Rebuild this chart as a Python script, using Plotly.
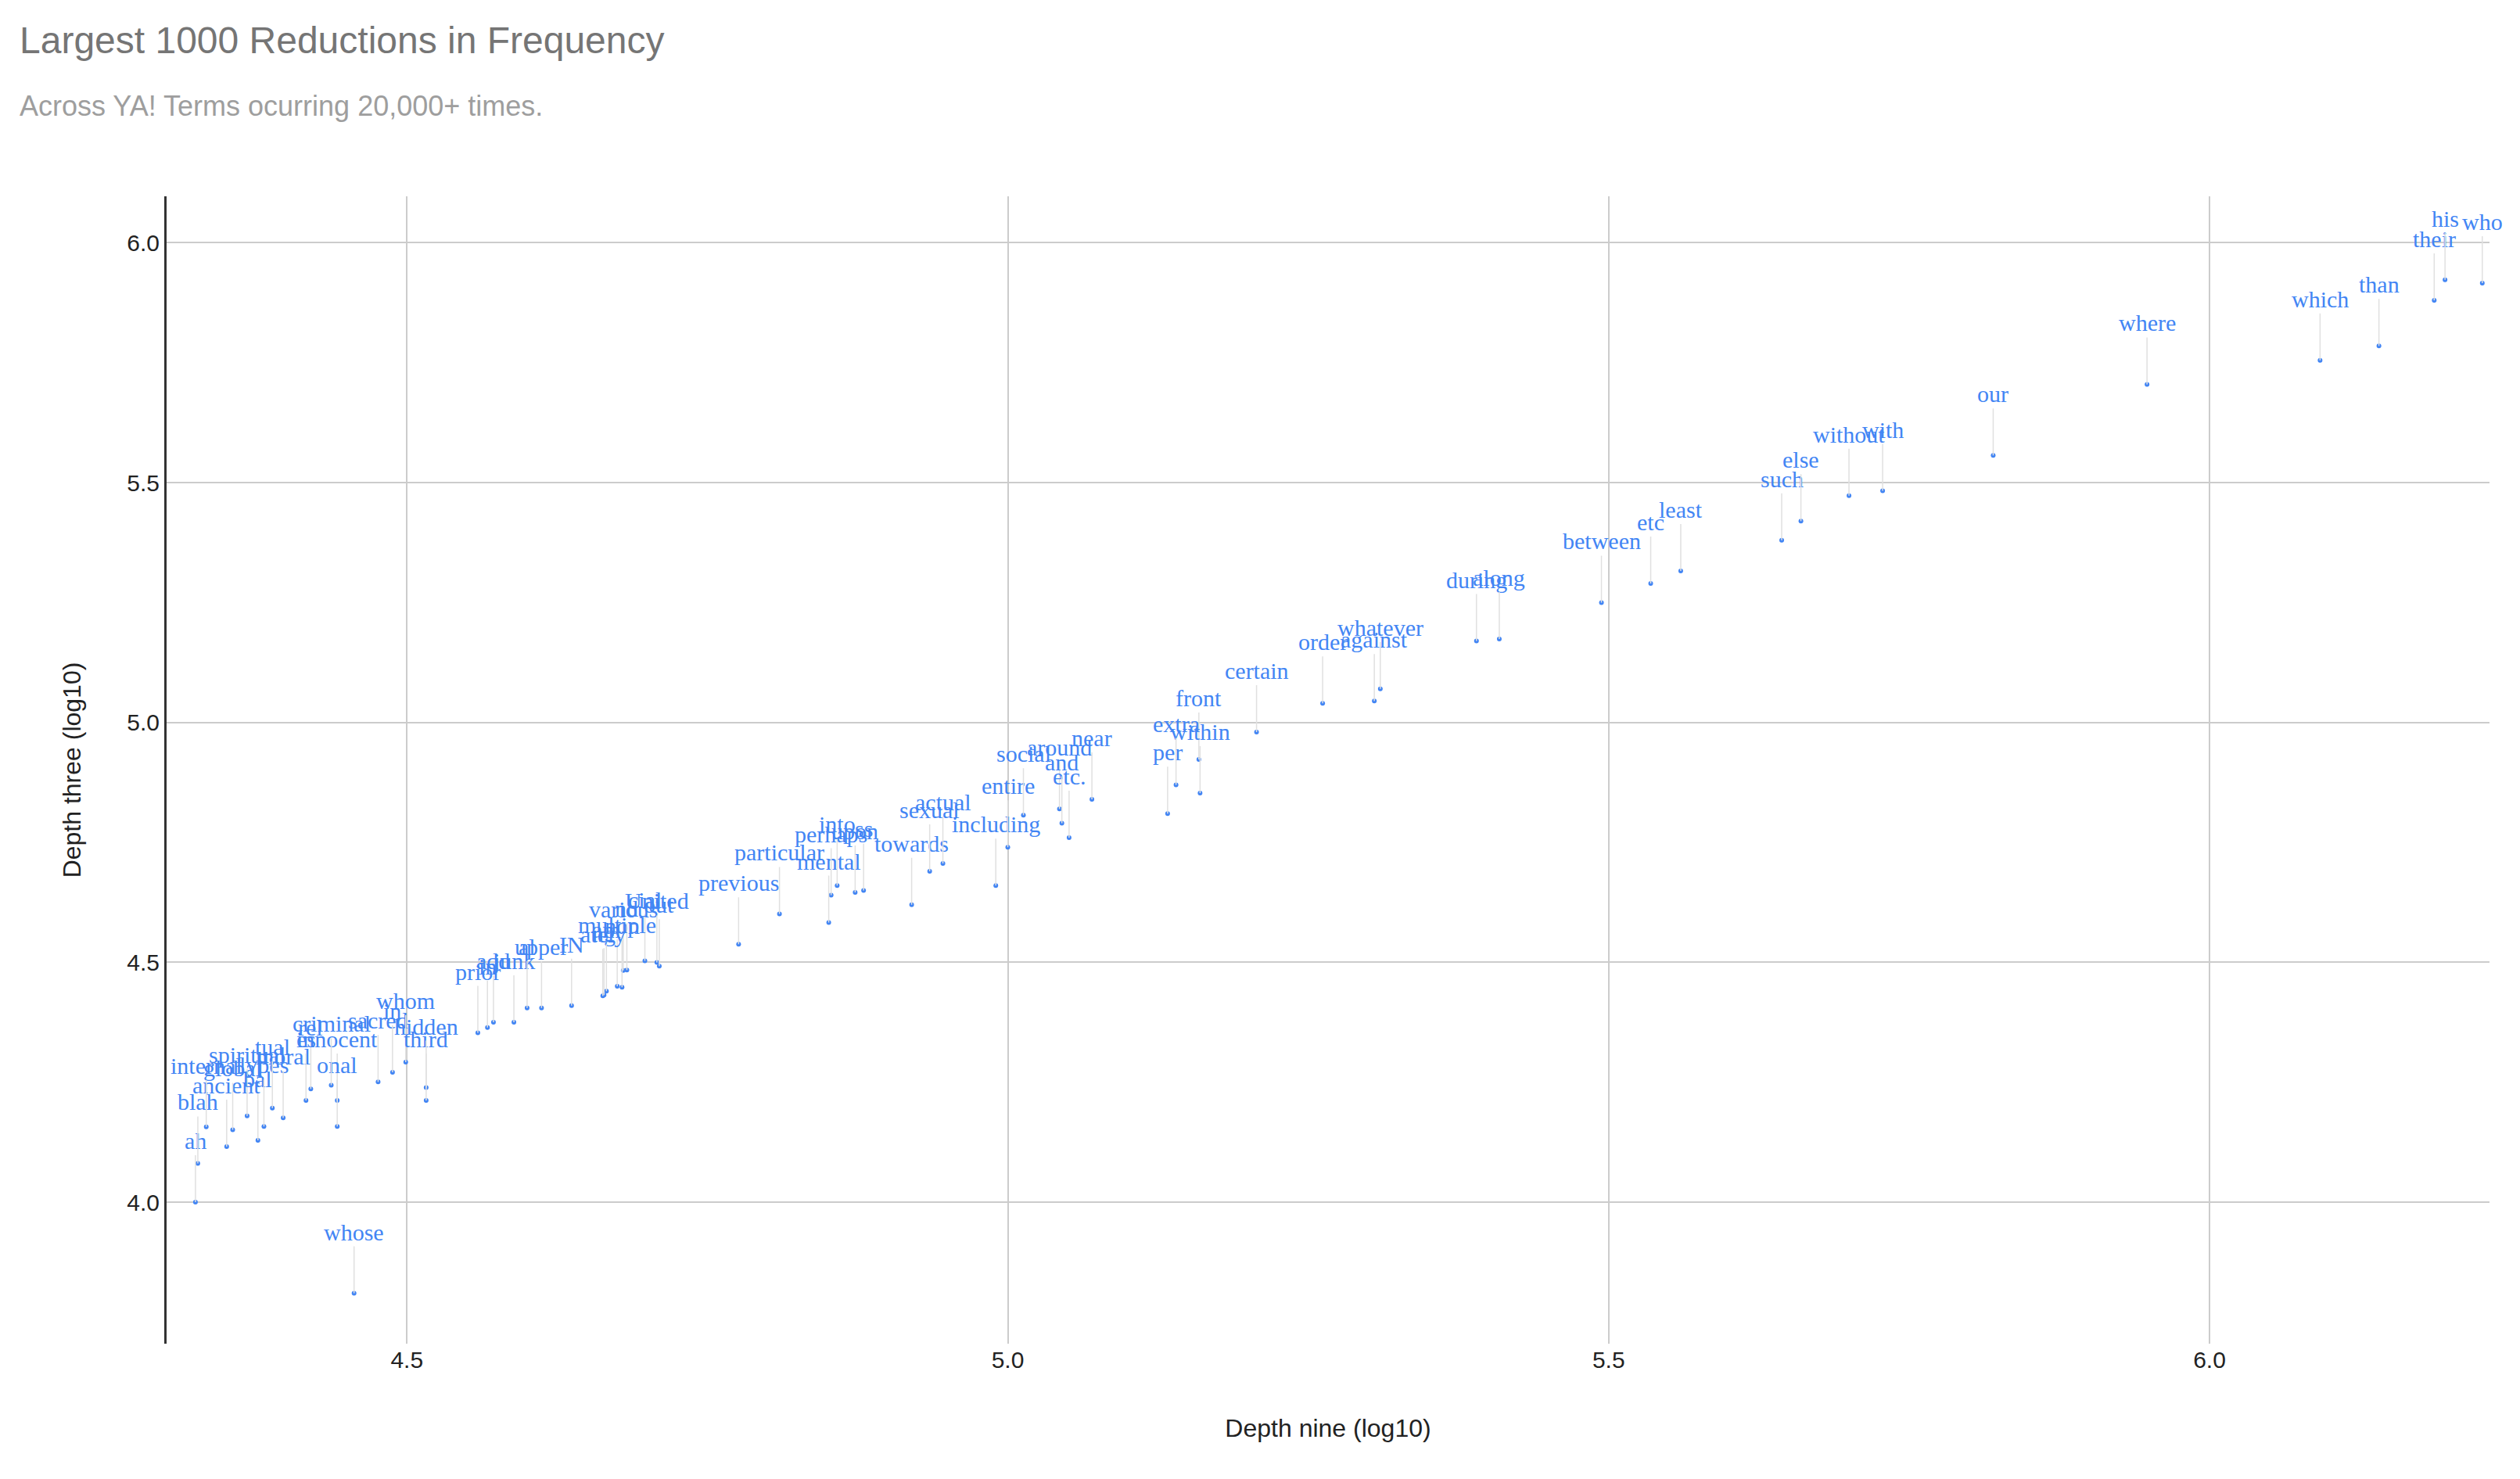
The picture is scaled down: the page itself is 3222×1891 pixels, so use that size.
import plotly.graph_objects as go

words = ["whose", "ah", "blah", "ancient", "global", "internal", "spiritual", "bal", "lypes", "moral",
         "tual", "es", "rel", "innocent", "onal", "criminal", "sacred", "in", "whom", "third",
         "hidden", "prior", "in", "add", "junk", "al", "upper", "IN", "ng", "non", "nd", "cial",
         "various", "out", "multiple", "am", "United", "ately", "previous", "particular",
         "mental", "perhaps", "into", "upon", "ss", "towards", "actual", "sexual", "including",
         "entire", "social", "around", "etc.", "and", "near", "per", "front", "within", "extra",
         "certain", "order", "against", "whatever", "during", "along", "between", "etc", "least",
         "such", "else", "without", "with", "our", "where", "which", "than", "their", "his", "who"]
depth_nine = [4.456, 4.324, 4.326, 4.350, 4.355, 4.333, 4.367, 4.376, 4.381, 4.397,
              4.388, 4.416, 4.420, 4.442, 4.442, 4.437, 4.476, 4.488, 4.499, 4.516,
              4.516, 4.559, 4.567, 4.572, 4.589, 4.600, 4.612, 4.637, 4.664, 4.679, 4.683, 4.698,
              4.680, 4.710, 4.675, 4.666, 4.708, 4.663, 4.776, 4.810,
              4.851, 4.853, 4.858, 4.873, 4.880, 4.920, 4.946, 4.935, 4.990,
              5.000, 5.013, 5.043, 5.051, 5.045, 5.070, 5.133, 5.159, 5.160, 5.140,
              5.207, 5.262, 5.305, 5.310, 5.390, 5.409, 5.494, 5.535, 5.560,
              5.644, 5.660, 5.700, 5.728, 5.820, 5.948, 6.092, 6.141, 6.187, 6.196, 6.227]
depth_three = [3.810, 4.000, 4.081, 4.116, 4.151, 4.157, 4.180, 4.129, 4.158, 4.176,
               4.196, 4.212, 4.236, 4.212, 4.158, 4.244, 4.251, 4.271, 4.292, 4.212,
               4.239, 4.353, 4.364, 4.375, 4.375, 4.405, 4.405, 4.410, 4.432, 4.448, 4.484, 4.503,
               4.483, 4.492, 4.450, 4.440, 4.500, 4.430, 4.538, 4.601,
               4.583, 4.640, 4.660, 4.646, 4.650, 4.620, 4.706, 4.690, 4.660,
               4.740, 4.807, 4.820, 4.760, 4.790, 4.840, 4.810, 4.923, 4.853, 4.870,
               4.980, 5.040, 5.045, 5.070, 5.170, 5.174, 5.250, 5.290, 5.316,
               5.380, 5.420, 5.473, 5.483, 5.557, 5.705, 5.755, 5.785, 5.880, 5.923, 5.916]

BLUE = "#4285f4"
fig = go.Figure()
fig.add_trace(go.Scatter(x=depth_nine, y=depth_three, mode="markers",
                         marker=dict(color=BLUE, size=6), hoverinfo="text", text=words,
                         showlegend=False))
for w, x, y in zip(words, depth_nine, depth_three):
    fig.add_annotation(x=x, y=y, text=w, showarrow=True, arrowhead=0, arrowwidth=1.5,
                       arrowcolor="#e0e0e0", ax=0, ay=-60, yanchor="bottom",
                       font=dict(family="Liberation Serif", size=30, color=BLUE))

fig.add_annotation(xref="paper", yref="paper", x=-190/2970, y=1 + 200/1467, xanchor="left",
                   yanchor="middle", showarrow=False, text="Largest 1000 Reductions in Frequency",
                   font=dict(family="Liberation Sans", size=48, color="#757575"))
fig.add_annotation(xref="paper", yref="paper", x=-190/2970, y=1 + 116/1467, xanchor="left",
                   yanchor="middle", showarrow=False, text="Across YA! Terms ocurring 20,000+ times.",
                   font=dict(family="Liberation Sans", size=36, color="#9e9e9e"))

fig.update_layout(
    width=3222, height=1891, plot_bgcolor="white", paper_bgcolor="white",
    margin=dict(l=205, r=47, t=243, b=181),
    font=dict(family="Liberation Sans", color="#222222"),
    xaxis=dict(range=[4.30, 6.233], tickvals=[4.5, 5.0, 5.5, 6.0],
               ticktext=["4.5", "5.0", "5.5", "6.0"], showgrid=True, gridcolor="#cccccc",
               gridwidth=2, zeroline=False, showline=False, tickfont=dict(size=30),
               title=dict(text="Depth nine (log10)", font=dict(size=32), standoff=60)),
    yaxis=dict(range=[3.705, 6.097], tickvals=[4.0, 4.5, 5.0, 5.5, 6.0],
               ticktext=["4.0", "4.5", "5.0", "5.5", "6.0"], showgrid=True, gridcolor="#cccccc",
               gridwidth=2, zeroline=False, showline=True, linecolor="#333333", linewidth=3,
               ticks="", tickfont=dict(size=30),
               title=dict(text="Depth three (log10)", font=dict(size=32), standoff=50)),
)
fig.write_html("out.html")
